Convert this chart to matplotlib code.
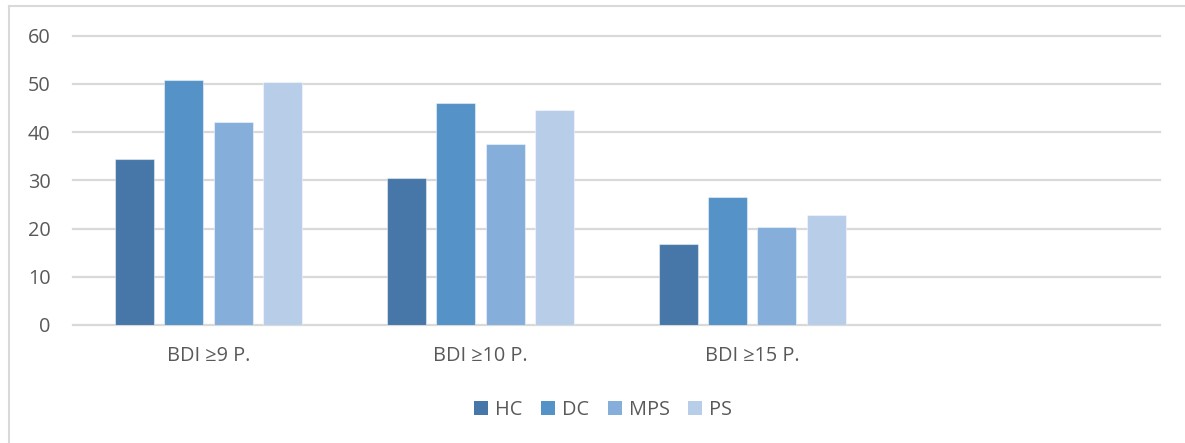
import matplotlib
matplotlib.use("Agg")
import matplotlib.pyplot as plt
from matplotlib.lines import Line2D
import numpy as np

plt.rcParams['font.family'] = ['Open Sans', 'DejaVu Sans']

categories = ["BDI ≥9 P.", "BDI ≥10 P.", "BDI ≥15 P.", ""]
series_names = ["HC", "DC", "MPS", "PS"]
hc = [34.4, 30.4, 16.8]
dc = [50.8, 46.0, 26.5]
mps = [42.2, 37.5, 20.3]
ps = [50.3, 44.5, 22.8]
yticks = [0, 10, 20, 30, 40, 50, 60]

colors = ["#4677A8", "#5592C7", "#85AEDB", "#B8CDE8"]
grid_color = "#D9D9D9"
text_color = "#595959"

fig = plt.figure(figsize=(11.85, 4.43), dpi=100)
ax = fig.add_axes([72.7 / 1185, 1 - 325 / 443, (1160 - 72.7) / 1185, (325 - 35.7) / 443])

x = np.arange(len(hc))
step = 0.1814
width = 0.1435
for i, (name, vals) in enumerate(zip(series_names, [hc, dc, mps, ps])):
    ax.bar(x + (i - 1.5) * step, vals, width, color=colors[i], label=name,
           edgecolor=(1, 1, 1, 0.45), linewidth=0.8, zorder=3)

ax.set_xlim(-0.5, len(categories) - 0.5)
ax.set_ylim(0, 60)
ax.set_yticks(yticks)
ax.set_xticks(np.arange(len(categories)))
ax.set_xticklabels(categories)
for y in yticks:
    ax.axhline(y, color=grid_color, lw=1.6, zorder=1, clip_on=False)
for s in ax.spines.values():
    s.set_visible(False)
ax.tick_params(axis='both', length=0, labelsize=14.3, colors=text_color)
ax.tick_params(axis='y', pad=16)
ax.tick_params(axis='x', pad=15)

leg = fig.legend(loc='center', bbox_to_anchor=(603 / 1185, 1 - 410 / 443), ncol=4,
                 frameon=False, fontsize=14.3, handlelength=0.7, handleheight=0.7,
                 handletextpad=0.35, columnspacing=0.95)
for t in leg.get_texts():
    t.set_color(text_color)
for h in leg.legend_handles:
    h.set_edgecolor('none')

# chart area frame (top and left edges)
fig.add_artist(Line2D([9 / 1185, 1], [1 - 5.5 / 443] * 2, color=grid_color, lw=1.5,
                      transform=fig.transFigure))
fig.add_artist(Line2D([9 / 1185] * 2, [0, 1 - 5.5 / 443], color=grid_color, lw=1.5,
                      transform=fig.transFigure))

fig.savefig("out.png", dpi=100)
